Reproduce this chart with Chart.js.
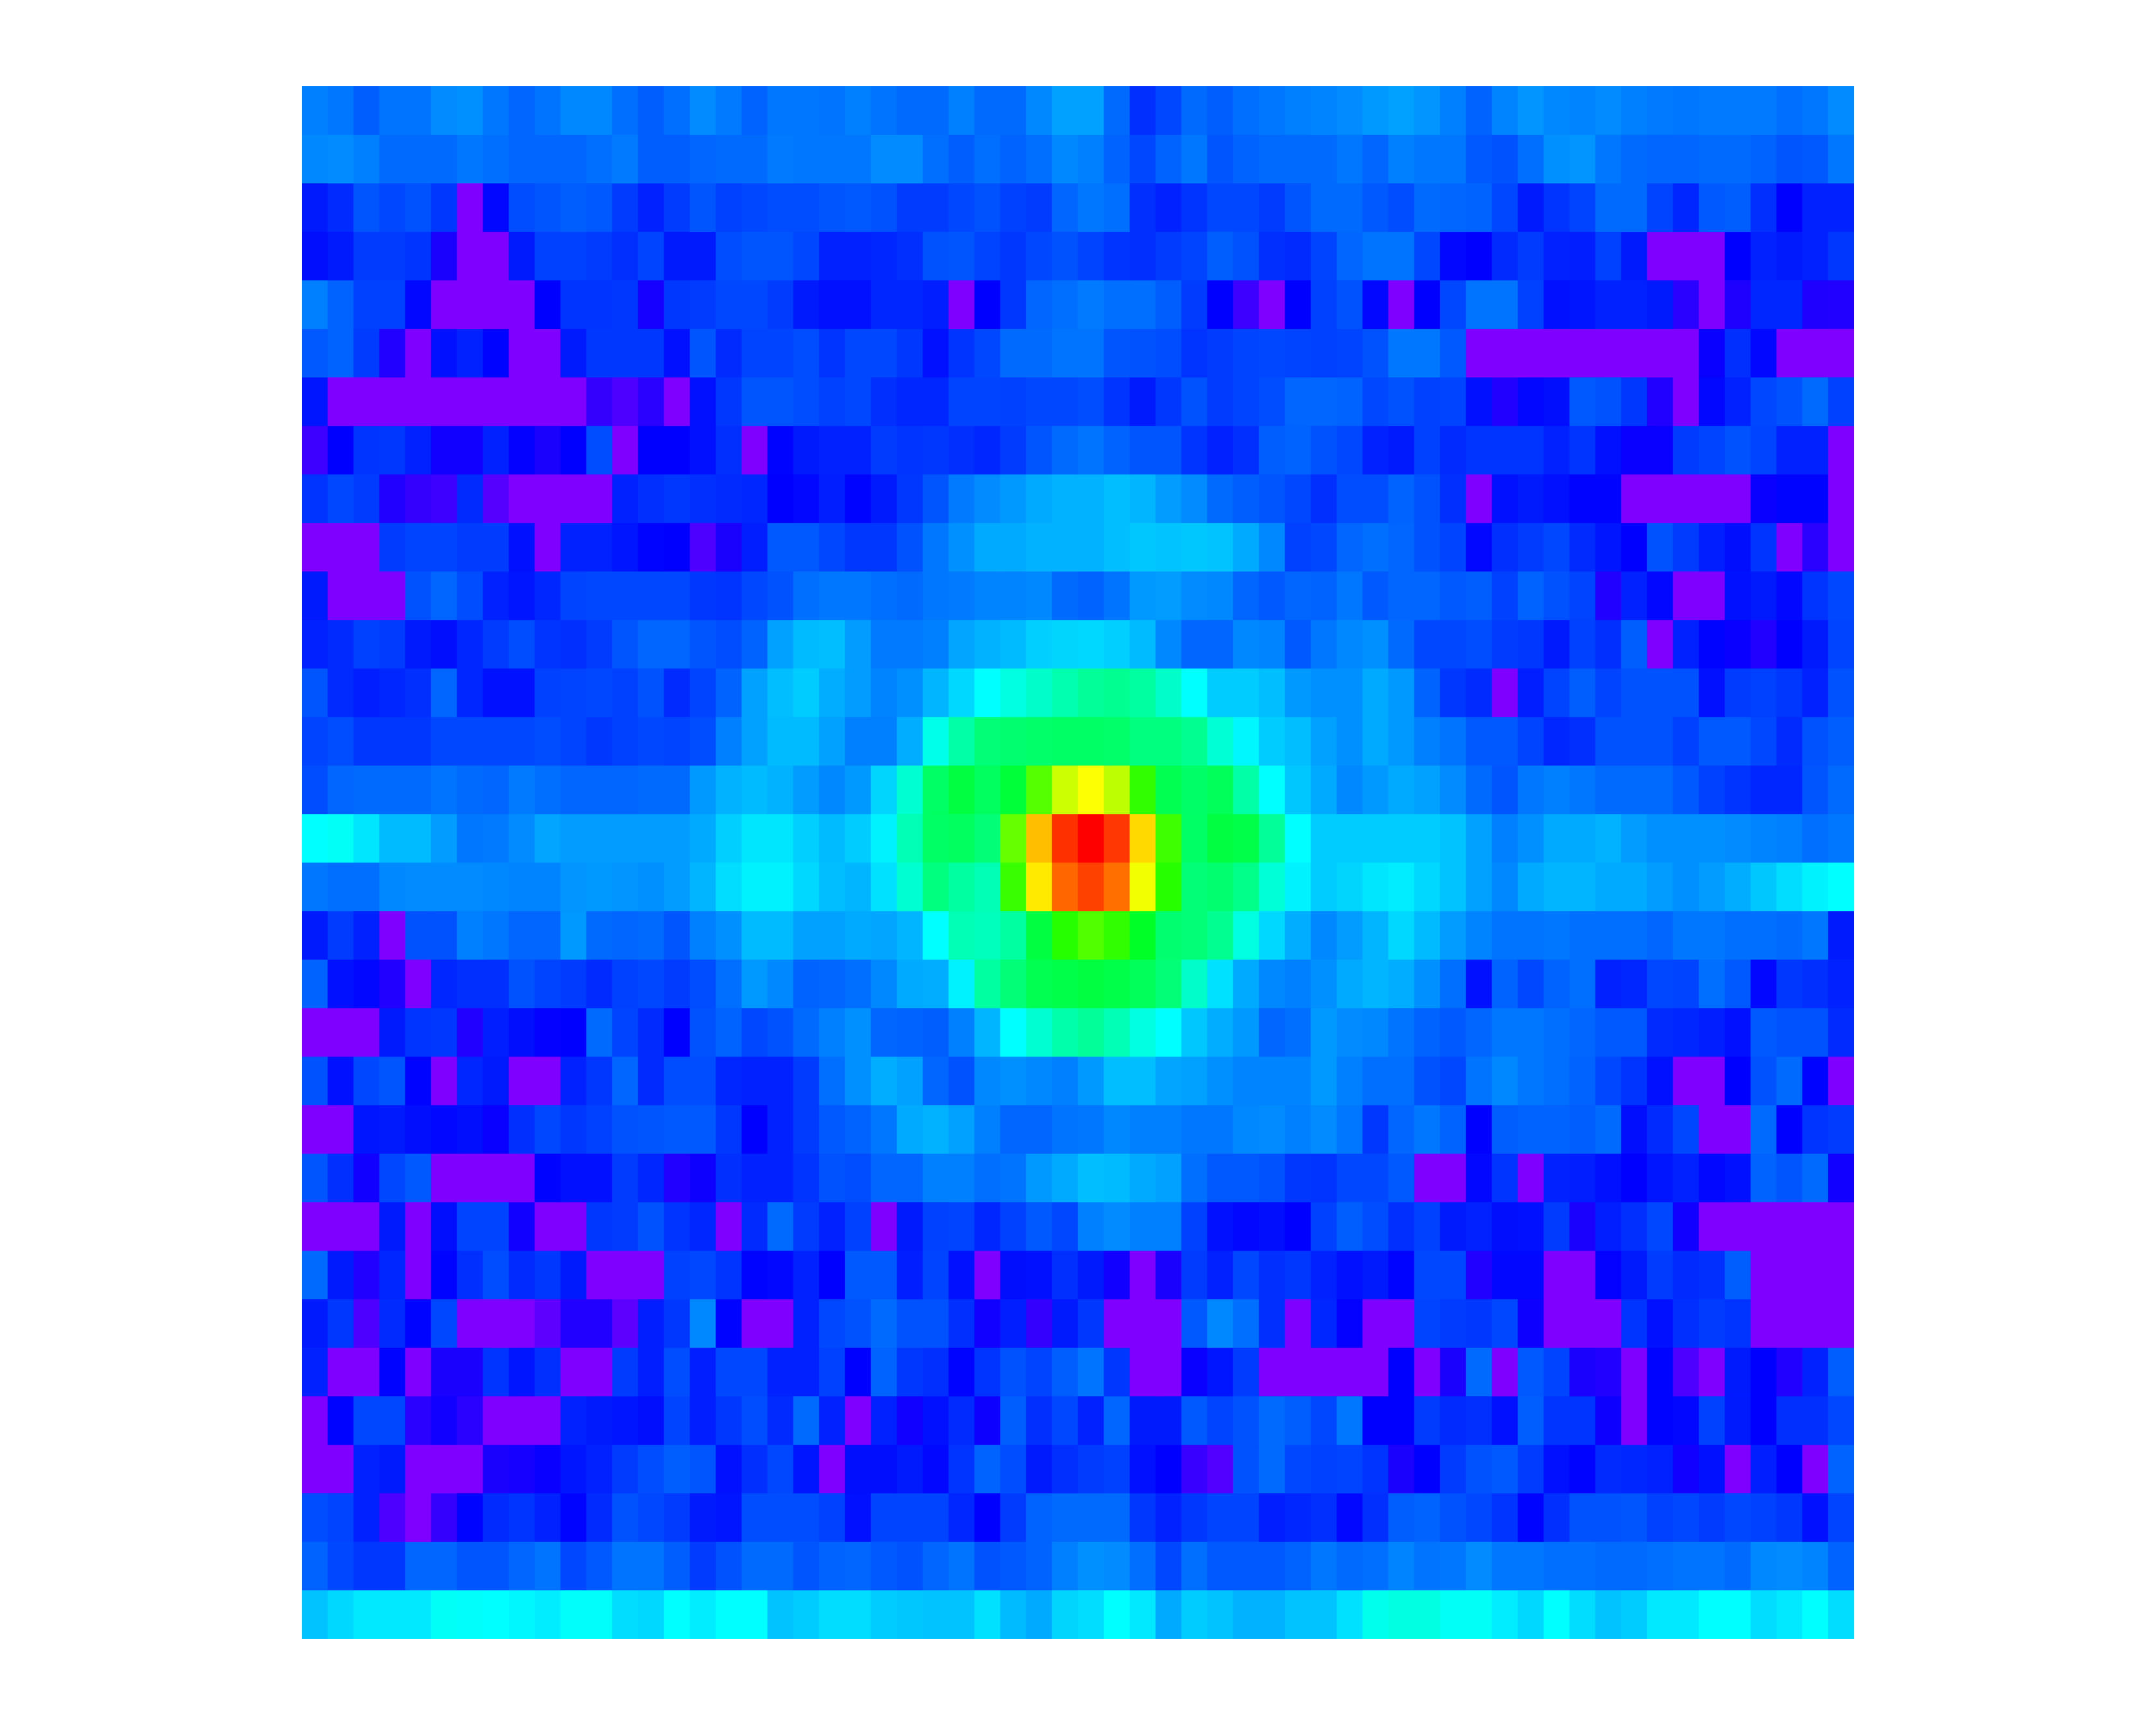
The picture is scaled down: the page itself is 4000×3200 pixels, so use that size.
<!DOCTYPE html>
<html><head><meta charset="utf-8">
<style>html,body{margin:0;padding:0;background:#fff}canvas{display:block}</style>
<script src="https://cdn.jsdelivr.net/npm/chart.js@4"></script>
</head><body><canvas id="c" width="4000" height="3200"></canvas>
<script>
const row00=[60,58,52,57,57,63,64,58,54,57,62,62,56,52,56,63,59,53,58,58, 57,60,57,55,55,60,55,55,62,68,68,55,41,47,55,52,56,58,60,61, 63,66,68,65,60,53,61,65,62,61,63,60,59,58,59,59,59,56,58,63];
const row01=[62,63,60,55,55,55,58,56,54,54,54,56,59,52,52,54,55,55,59,58, 58,58,63,63,56,52,56,53,56,62,60,53,47,53,58,50,53,55,55,55, 58,54,60,58,58,51,49,56,64,65,58,55,54,54,55,55,53,50,51,58];
const row02=[36,40,50,47,49,43,0,32,48,50,52,51,44,38,44,50,45,47,48,48, 50,51,49,44,44,47,49,45,44,54,58,56,41,38,42,47,47,44,50,55, 55,51,48,55,54,53,47,36,42,46,55,55,46,39,51,52,41,30,38,38];
const row03=[33,36,44,44,42,24,0,0,36,45,45,44,41,46,36,36,48,50,50,47, 38,38,39,41,49,50,46,43,47,49,46,42,41,44,46,52,49,41,40,46, 54,57,57,47,32,30,40,44,38,37,45,36,0,0,0,30,38,36,38,43];
const row04=[60,53,45,45,32,0,0,0,0,30,42,42,43,25,43,44,47,47,44,36, 34,34,39,39,37,0,30,43,54,56,59,56,56,52,44,30,16,0,30,45, 49,32,0,30,47,57,57,45,34,35,38,38,36,20,0,23,39,39,23,22];
const row05=[51,53,44,22,0,34,38,31,0,0,36,43,43,43,34,50,40,46,46,48, 42,47,47,43,34,42,47,55,55,57,57,50,49,48,42,44,46,47,46,45, 46,49,58,58,51,0,0,0,0,0,0,0,0,0,28,41,32,0,0,0];
const row06=[35,0,0,0,0,0,0,0,0,0,0,18,12,20,0,34,43,50,50,48, 45,47,41,39,39,46,46,45,47,47,48,42,36,43,49,44,46,48,54,54, 53,47,49,45,46,34,22,32,33,51,49,43,22,0,32,38,47,49,55,45];
const row07=[16,30,42,43,38,26,26,38,29,24,30,48,0,30,30,34,41,0,31,36, 38,38,44,42,43,41,39,44,50,55,57,53,50,50,42,38,41,52,53,49, 47,38,36,45,40,42,42,42,38,42,34,28,28,44,46,49,46,38,38,0];
const row08=[42,47,44,22,18,16,40,10,0,0,0,0,38,41,43,41,40,39,30,32, 37,31,36,43,50,59,63,66,70,72,72,75,73,67,63,55,52,50,47,41, 48,48,53,49,41,0,34,36,34,31,31,0,0,0,0,0,28,31,31,0];
const row09=[0,0,0,44,46,46,44,44,34,0,38,38,35,31,30,12,24,37,51,51, 47,43,43,49,58,64,70,70,72,72,72,75,77,76,77,76,70,62,45,47, 54,56,54,49,46,32,41,44,47,40,35,30,49,44,37,33,42,0,20,0];
const row10=[36,0,0,0,49,54,48,38,35,39,46,47,47,47,47,43,42,47,49,56, 58,58,56,55,58,59,61,61,62,55,53,57,66,67,63,62,54,51,54,53, 58,51,54,54,51,52,45,53,49,46,22,38,32,0,0,34,36,32,42,47];
const row11=[38,40,45,44,36,33,39,44,48,42,41,44,50,54,54,50,48,53,68,74, 75,67,59,59,60,69,72,74,79,80,81,79,74,62,54,54,62,61,51,58, 62,64,55,47,47,48,44,43,36,45,41,52,0,38,31,28,22,30,36,46];
const row12=[50,40,37,39,41,54,39,34,34,45,46,47,45,49,40,46,53,68,75,78, 71,67,61,64,73,81,90,97,103,109,114,116,112,103,90,78,78,75,66,64, 64,70,66,53,43,40,0,37,46,52,46,49,49,49,34,44,45,43,38,49];
const row13=[46,48,43,43,43,47,47,47,47,48,46,43,45,47,46,48,60,68,74,74, 68,60,60,71,95,111,122,124,125,127,127,125,120,120,116,100,88,78,75,68, 64,70,66,60,57,51,51,46,39,41,49,49,49,45,51,51,47,40,49,52];
const row14=[48,54,55,55,55,57,55,54,59,56,54,54,54,55,55,66,72,74,72,67, 62,66,80,101,127,135,128,137,170,198,209,194,161,131,126,129,111,90,77,70, 62,66,70,68,63,55,50,58,60,58,55,55,55,51,45,42,39,39,50,55];
const row15=[90,92,84,74,74,67,58,59,63,69,67,67,67,67,67,70,79,84,84,79, 74,78,87,108,127,128,122,174,225,259,270,257,219,165,127,135,133,114,90,78, 78,78,78,78,76,68,60,64,70,70,72,67,64,64,64,63,61,60,56,58];
const row16=[58,56,56,62,63,63,63,62,61,61,65,66,65,64,67,73,82,87,87,81, 75,73,83,101,120,112,108,163,215,246,255,244,207,159,122,124,118,99,87,78, 80,84,86,81,76,68,62,70,73,73,70,70,67,64,67,71,77,82,87,90];
const row17=[36,44,38,0,49,49,60,58,54,54,66,55,54,55,50,60,64,74,74,68, 68,70,69,73,90,108,106,112,135,159,169,161,141,124,122,116,97,81,71,62, 67,73,81,74,67,61,57,57,58,56,56,56,54,58,58,56,56,55,58,36];
const row18=[53,34,32,22,0,39,41,41,49,46,44,40,45,47,44,48,56,66,62,53, 54,56,62,70,71,87,112,122,131,133,135,133,129,122,103,83,70,62,60,64, 70,73,71,64,56,34,53,47,53,56,38,39,47,46,56,51,32,43,41,38];
const row19=[0,0,0,36,42,43,22,37,33,29,30,55,46,40,30,49,53,47,49,55, 60,64,54,53,52,60,73,90,101,110,114,108,97,90,77,71,66,54,56,66, 63,62,57,53,51,54,58,58,56,54,51,51,40,39,37,34,51,49,49,40];
const row20=[49,34,47,50,31,0,39,36,0,0,38,43,54,40,48,48,39,38,38,44, 56,64,71,68,54,49,62,64,62,60,66,75,75,69,68,64,61,61,61,66, 60,56,56,49,47,57,62,58,56,53,47,42,34,0,0,30,49,55,31,0];
const row21=[0,0,35,36,33,32,33,28,41,47,43,45,49,50,51,51,43,30,38,44, 51,53,58,70,72,68,60,54,54,57,58,62,60,60,58,58,62,63,60,63, 58,43,54,58,53,30,52,53,53,52,55,33,40,47,0,0,55,30,42,44];
const row22=[50,41,26,47,51,0,0,0,0,31,34,34,44,39,22,27,41,38,38,42, 49,48,54,54,60,60,56,57,66,70,75,74,70,68,56,51,51,49,43,42, 47,47,51,0,0,32,42,0,38,37,34,30,35,38,32,34,53,50,55,26];
const row23=[0,0,0,36,0,33,46,46,26,0,0,43,44,49,42,39,0,40,55,44, 38,45,0,36,45,46,39,45,51,47,60,63,60,60,45,34,32,33,30,45, 52,48,41,45,36,38,33,34,44,24,37,41,47,26,0,0,0,0,0,0];
const row24=[55,36,22,39,0,31,41,48,40,43,36,0,0,0,45,47,42,31,32,38, 30,51,51,37,46,34,0,33,34,41,36,26,0,24,44,38,47,41,43,38, 34,36,31,47,47,22,32,32,0,0,29,36,44,40,41,52,0,0,0,0];
const row25=[36,43,12,40,31,47,0,0,0,8,22,22,8,37,43,62,31,0,0,38, 47,49,55,49,49,41,26,37,18,36,43,0,0,0,51,62,56,41,0,39, 29,0,0,46,44,43,47,27,0,0,0,42,34,41,44,42,0,0,0,0];
const row26=[38,0,0,31,0,24,24,42,35,41,0,0,44,37,48,37,47,47,38,38, 45,30,53,43,41,31,42,49,46,52,57,43,0,0,28,35,44,0,0,0, 0,0,30,0,24,55,0,51,46,24,22,0,31,12,0,36,30,22,38,52];
const row27=[0,31,47,47,20,26,20,0,0,0,38,36,35,33,46,37,43,48,40,55, 38,0,38,26,34,40,27,52,41,47,38,54,36,36,51,46,49,55,52,47, 58,30,30,44,40,41,34,52,42,42,27,0,31,32,45,36,30,41,41,47];
const row28=[0,0,38,36,0,0,0,24,25,28,35,38,44,48,52,50,34,41,47,35, 0,33,33,36,32,42,53,48,36,41,44,45,34,30,17,11,49,55,47,45, 46,42,24,30,44,49,51,44,34,31,40,39,38,26,34,0,37,30,0,53];
const row29=[48,46,38,12,0,18,31,40,42,38,31,40,49,47,44,36,35,48,48,48, 45,34,46,46,46,39,30,44,53,55,55,55,43,38,43,46,46,37,39,41, 32,41,52,53,49,47,42,31,41,49,49,50,45,47,44,47,45,43,34,46];
const row30=[53,47,43,43,54,54,50,50,54,57,47,51,57,57,52,44,49,55,55,50, 53,54,51,49,54,57,49,51,53,60,64,63,56,47,56,51,51,51,53,58, 55,56,61,57,58,63,58,58,56,56,55,55,56,57,57,55,62,63,61,53];
const row31=[76,81,85,85,85,92,91,90,88,86,91,91,82,81,90,86,90,90,76,78, 82,82,78,77,76,76,83,74,70,80,82,90,85,70,78,76,72,72,76,76, 83,94,97,97,92,92,86,81,90,82,76,78,85,85,90,90,82,85,90,82];

const rows=[row00,row01,row02,row03,row04,row05,row06,row07,row08,row09,row10,row11,row12,row13,row14,row15,
            row16,row17,row18,row19,row20,row21,row22,row23,row24,row25,row26,row27,row28,row29,row30,row31];
const columns=row00.map((_,i)=>i);
// value -> colour: 0 is violet (hue 270), 270 is red (hue 0)
const colourOf=v=>`hsl(${270-Math.max(0,Math.min(270,v))},100%,50%)`;

const datasets=rows.map((vals,r)=>({
  data:vals.map(()=>[r,r+1]),
  backgroundColor:vals.map(colourOf),
  borderWidth:0,
  grouped:false,
  barPercentage:1,
  categoryPercentage:1,
  borderSkipped:false
}));

new Chart(document.getElementById('c'),{
  type:'bar',
  data:{labels:columns,datasets},
  options:{
    responsive:false,
    animation:false,
    layout:{padding:{left:560,right:560,top:160,bottom:160}},
    plugins:{legend:{display:false},tooltip:{enabled:false},title:{display:false}},
    scales:{
      x:{type:'category',display:false,offset:true,grid:{display:false}},
      y:{type:'linear',display:false,min:0,max:rows.length,reverse:true,grid:{display:false}}
    }
  }
});
</script></body></html>
